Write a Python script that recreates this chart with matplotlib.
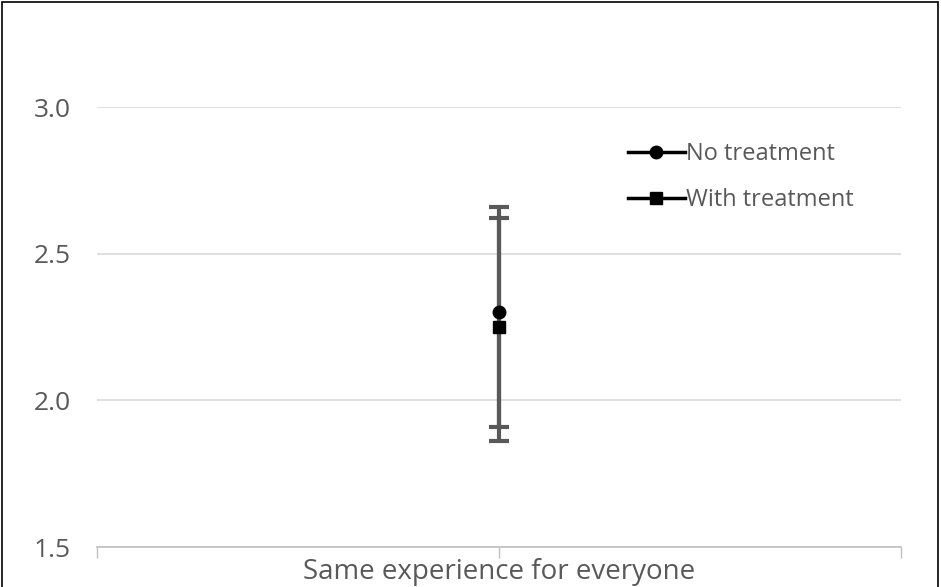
import matplotlib.pyplot as plt
from matplotlib.lines import Line2D
from matplotlib.patches import Rectangle

plt.rcParams['font.family'] = ['Open Sans', 'DejaVu Sans']

category = ['Same experience for everyone']
series = ['No treatment', 'With treatment']
means = [2.30, 2.25]
upper = [2.66, 2.62]
lower = [1.91, 1.86]
markers = ['o', 's']
yticks = [1.5, 2.0, 2.5, 3.0]

text_col = '#595959'

fig = plt.figure(figsize=(9.41, 5.87), dpi=100)
ax = fig.add_axes([0.1031, 0.0681, 0.8544, 0.7496])

for name, m, hi, lo, mk in zip(series, means, upper, lower, markers):
    ax.errorbar([0], [m], yerr=[[m - lo], [hi - m]], fmt='none',
                ecolor='#595959', elinewidth=3, capsize=7, capthick=3, zorder=2)
for name, m, mk in zip(series, means, markers):
    ax.plot([0], [m], marker=mk, color='black', markersize=9,
            linestyle='none', zorder=3)

ax.set_xlim(-0.5, 0.5)
ax.set_ylim(1.5, 3.0)
ax.set_yticks(yticks)
ax.set_yticklabels([f'{v:.1f}' for v in yticks])
ax.set_xticks([-0.5, 0.5], minor=False)
ax.set_xticklabels(['', ''])
ax.set_xticks([0], minor=True)
ax.set_xticklabels(category, minor=True)
ax.tick_params(axis='x', which='both', length=8, color='#bfbfbf', width=1,
               labelsize=20, labelcolor=text_col, pad=0)
ax.tick_params(axis='y', length=0, labelsize=19, labelcolor=text_col, pad=19)

ax.grid(axis='y', color='#d9d9d9', linewidth=1.2, zorder=0)
for s in ['top', 'right', 'left']:
    ax.spines[s].set_visible(False)
ax.spines['bottom'].set_color('#bfbfbf')
ax.spines['bottom'].set_linewidth(1.2)
ax.set_axisbelow(True)

handles = [Line2D([0], [0], color='black', linewidth=2.5, marker=mk,
                  markersize=9) for mk in markers]
ax.legend(handles, series, loc='upper left', bbox_to_anchor=(0.634, 0.969),
          frameon=False, fontsize=17, labelcolor=text_col,
          handlelength=2.4, handletextpad=0.05, labelspacing=0.95)

# outer frame around the whole figure
fig.patches.append(Rectangle((2 / 941, -0.05), 936 / 941, 1.05 - 2 / 587,
                             transform=fig.transFigure, fill=False,
                             edgecolor='black', linewidth=1.2))

fig.savefig('out.png', dpi=100)
